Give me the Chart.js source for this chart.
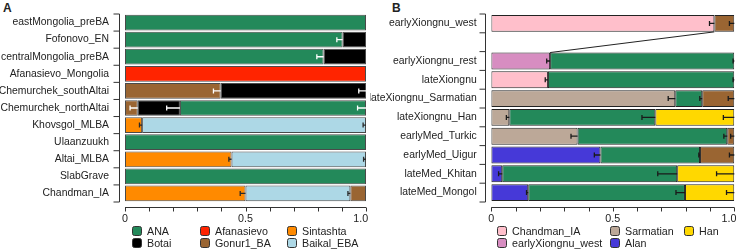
<!DOCTYPE html>
<html>
<head>
<meta charset="utf-8">
<script src="https://cdn.jsdelivr.net/npm/chart.js@4/dist/chart.umd.min.js"></script>
<style>
  body { margin: 0; width: 740px; height: 249px; overflow: hidden; background: #fff; position: relative;
         font-family: "Liberation Sans", Arial, sans-serif; color: #222; }
  canvas { position: absolute; top: 0; }
  .panel { position: absolute; top: 1px; font-size: 12px; font-weight: bold; line-height: 14px; }
  .item { position: absolute; display: flex; align-items: center; height: 10px; font-size: 10.7px; white-space: nowrap; }
  .item i { display: block; width: 10px; height: 10px; box-sizing: border-box; border: 1px solid #333;
            border-radius: 2.5px; margin-right: 5px; }
</style>
</head>
<body>
<div class="panel" style="left:3px">A</div>
<div class="panel" style="left:392px">B</div>
<canvas id="chartA" width="380" height="249" style="left:0"></canvas>
<canvas id="chartB" width="380" height="249" style="left:370px"></canvas>
<div id="legendA"></div>
<div id="legendB"></div>
<script>
// panel A
const rowsA = ['eastMongolia_preBA', 'Fofonovo_EN', 'centralMongolia_preBA', 'Afanasievo_Mongolia',
  'Chemurchek_southAltai', 'Chemurchek_northAltai', 'Khovsgol_MLBA', 'Ulaanzuukh', 'Altai_MLBA', 'SlabGrave', 'Chandman_IA'];
const srcA1 = ['ANA', 'ANA', 'ANA', 'Afanasievo', 'Gonur1_BA', 'Gonur1_BA', 'Sintashta', 'ANA', 'Sintashta', 'ANA', 'Sintashta'];
const valA1 = [1, 0.903, 0.824, 1, 0.397, 0.053, 0.071, 1, 0.442, 1, 0.5];
const errA1 = [0, 0.024, 0.028, 0, 0.03, 0.032, 0.011, 0, 0.011, 0, 0.022];
const srcA2 = [null, 'Botai', 'Botai', null, 'Botai', 'Botai', 'Baikal_EBA', null, 'Baikal_EBA', null, 'Baikal_EBA'];
const valA2 = [null, 0.097, 0.176, null, 0.603, 0.175, 0.929, null, 0.558, null, 0.435];
const errA2 = [0, 0, 0, 0, 0.03, 0.055, 0.012, 0, 0.01, 0, 0.01];
const srcA3 = [null, null, null, null, null, 'ANA', null, null, null, null, 'Gonur1_BA'];
const valA3 = [null, null, null, null, null, 0.772, null, null, null, null, 0.065];
const errA3 = [0, 0, 0, 0, 0, 0.035, 0, 0, 0, 0, 0];
const legendA = ['ANA', 'Afanasievo', 'Sintashta', 'Botai', 'Gonur1_BA', 'Baikal_EBA'];

// panel B (second row left empty on purpose)
const rowsB = ['earlyXiongnu_west', '', 'earlyXiongnu_rest', 'lateXiongnu', 'lateXiongnu_Sarmatian',
  'lateXiongnu_Han', 'earlyMed_Turkic', 'earlyMed_Uigur', 'lateMed_Khitan', 'lateMed_Mongol'];
const srcB1 = ['Chandman_IA', null, 'earlyXiongnu_west', 'Chandman_IA', 'Sarmatian', 'Sarmatian', 'Sarmatian', 'Alan', 'Alan', 'Alan'];
const valB1 = [0.918, null, 0.242, 0.233, 0.757, 0.074, 0.355, 0.449, 0.045, 0.152];
const errB1 = [0.02, 0, 0.014, 0.011, 0.029, 0.012, 0.027, 0.025, 0.015, 0.007];
const srcB2 = ['Gonur1_BA', null, 'ANA', 'ANA', 'ANA', 'ANA', 'ANA', 'ANA', 'ANA', 'ANA'];
const valB2 = [0.082, null, 0.758, 0.767, 0.111, 0.601, 0.616, 0.41, 0.72, 0.645];
const errB2 = [0.02, 0, 0.005, 0.005, 0.01, 0.055, 0.014, 0.005, 0.08, 0.037];
const srcB3 = [null, null, null, null, 'Gonur1_BA', 'Han', 'Gonur1_BA', 'Gonur1_BA', 'Han', 'Han'];
const valB3 = [null, null, null, null, 0.132, 0.325, 0.029, 0.141, 0.235, 0.203];
const errB3 = [0, 0, 0, 0, 0.025, 0.045, 0.015, 0.02, 0.073, 0.032];
const legendB = ['Chandman_IA', 'Sarmatian', 'Han', 'earlyXiongnu_west', 'Alan'];

const colors = {
  ANA: '#23895a', Botai: '#000000', Afanasievo: '#ff2400', Gonur1_BA: '#9a6532',
  Sintashta: '#ff8a00', Baikal_EBA: '#add8e6', Chandman_IA: '#ffbfcb',
  earlyXiongnu_west: '#d78dc1', Sarmatian: '#bca898', Alan: '#4639d8', Han: '#ffd800'
};
const darkSrc = ['ANA', 'Botai', 'Afanasievo', 'Gonur1_BA'];

const font = { family: '"Liberation Sans", Arial, sans-serif', size: 10.4 };

function axesPlugin(cfg) {
  return {
    id: 'axes' + cfg.name,
    afterDatasetsDraw(chart) {
      const ctx = chart.ctx, a = chart.chartArea;
      const xs = chart.scales.x, ys = chart.scales.y;
      ctx.save();
      // error bars: from (end - err) to the end of each segment
      ctx.lineWidth = 1.3;
      cfg.rows.forEach((r, i) => {
        let cum = 0;
        cfg.segs.forEach((s, d) => {
          if (!s.val[i]) return;
          cum += s.val[i];
          const e = s.err[i];
          if (!e) return;
          const bar = chart.getDatasetMeta(d).data[i];
          const x1 = xs.getPixelForValue(cum - e), x2 = xs.getPixelForValue(cum);
          ctx.strokeStyle = cfg.errColor(s.src[i]);
          ctx.beginPath();
          ctx.moveTo(x1, bar.y); ctx.lineTo(x2, bar.y);
          ctx.moveTo(x1, bar.y - 2.5); ctx.lineTo(x1, bar.y + 2.5);
          ctx.stroke();
        });
      });
      if (cfg.after) cfg.after(chart, ctx);
      // axes
      ctx.strokeStyle = '#333';
      ctx.lineWidth = 1;
      ctx.beginPath();
      const ax = Math.round(a.left - cfg.yGap) + 0.5;
      ctx.moveTo(ax, a.top); ctx.lineTo(ax, a.bottom);
      for (let i = 0; i <= cfg.rows.length; i++) {
        const y = ys.getPixelForValue(i - 0.5);
        ctx.moveTo(ax - 6, y); ctx.lineTo(ax, y);
      }
      const ay = Math.round(a.bottom + 5) + 0.5;
      ctx.moveTo(xs.getPixelForValue(0), ay); ctx.lineTo(xs.getPixelForValue(1), ay);
      xs.ticks.forEach(t => {
        const x = Math.round(xs.getPixelForValue(t.value)) + 0.5;
        ctx.moveTo(x, ay); ctx.lineTo(x, ay + 4);
      });
      ctx.stroke();
      ctx.restore();
    }
  };
}

function makeChart(id, cfg) {
  return new Chart(document.getElementById(id), {
    type: 'bar',
    data: {
      labels: cfg.rows,
      datasets: cfg.segs.map(s => ({
        data: s.val,
        backgroundColor: s.src.map(k => colors[k] || 'transparent'),
        borderColor: cfg.border,
        borderWidth: 1,
        borderSkipped: false,
        categoryPercentage: 1,
        barPercentage: cfg.barPct
      }))
    },
    options: {
      indexAxis: 'y',
      responsive: false,
      animation: false,
      devicePixelRatio: 1,
      layout: { padding: { left: 0, top: 14, right: cfg.padRight, bottom: 0 } },
      plugins: { legend: { display: false }, tooltip: { enabled: false } },
      scales: {
        x: {
          stacked: true, min: 0, max: 1,
          grid: { display: false, drawTicks: false },
          border: { display: false },
          afterFit: s => { s.height = 47; s.paddingLeft = 0; s.paddingRight = 0; },
          ticks: {
            stepSize: 0.1, padding: 11, color: '#222', maxRotation: 0, autoSkip: false,
            font: { family: font.family, size: 10.7 },
            callback: v => {
              const t = Math.round(v * 10);
              if (t === 0) return '0';
              if (t === 5) return '0.5';
              if (t === 10) return '1.0\u2003';
              return '';
            }
          }
        },
        y: {
          stacked: true,
          grid: { display: false, drawTicks: false },
          border: { display: false },
          afterFit: s => { s.width = cfg.left; s.paddingTop = 0; s.paddingBottom = 0; },
          ticks: { padding: cfg.labelPad, color: '#222', font: font, autoSkip: false }
        }
      }
    },
    plugins: [axesPlugin(cfg)]
  });
}

makeChart('chartA', {
  name: 'A', rows: rowsA, left: 125, padRight: 14, labelPad: 16, yGap: 6.5, barPct: 0.92, border: '#4a4a4a',
  segs: [
    { src: srcA1, val: valA1, err: errA1 },
    { src: srcA2, val: valA2, err: errA2 },
    { src: srcA3, val: valA3, err: errA3 }
  ],
  errColor: s => darkSrc.includes(s) ? '#ffffff' : '#2a2a2a'
});

makeChart('chartB', {
  name: 'B', rows: rowsB, left: 121.3, padRight: 15.7, labelPad: 14.6, yGap: 6.5, barPct: 0.9, border: '#222',
  segs: [
    { src: srcB1, val: valB1, err: errB1 },
    { src: srcB2, val: valB2, err: errB2 },
    { src: srcB3, val: valB3, err: errB3 }
  ],
  errColor: () => '#1a1a1a',
  // line linking the earlyXiongnu_west row to its share in earlyXiongnu_rest
  after: (chart, ctx) => {
    const xs = chart.scales.x;
    const from = chart.getDatasetMeta(0).data[0], to = chart.getDatasetMeta(0).data[2];
    ctx.strokeStyle = '#222';
    ctx.lineWidth = 1;
    ctx.beginPath();
    ctx.moveTo(xs.getPixelForValue(valB1[0]), from.y + from.height / 2);
    ctx.lineTo(xs.getPixelForValue(valB1[2]), to.y - to.height / 2);
    ctx.stroke();
  }
});

function buildLegend(el, names, cols, rowsY) {
  names.forEach((n, k) => {
    const d = document.createElement('div');
    d.className = 'item';
    d.style.left = cols[k % cols.length] + 'px';
    d.style.top = rowsY[Math.floor(k / cols.length)] + 'px';
    d.innerHTML = '<i style="background:' + colors[n] + '"></i><span>' + n + '</span>';
    el.appendChild(d);
  });
}
buildLegend(document.getElementById('legendA'), legendA, [132, 200, 287], [226, 238]);
buildLegend(document.getElementById('legendB'), legendB, [497, 610, 684], [226, 238]);
</script>
</body>
</html>
